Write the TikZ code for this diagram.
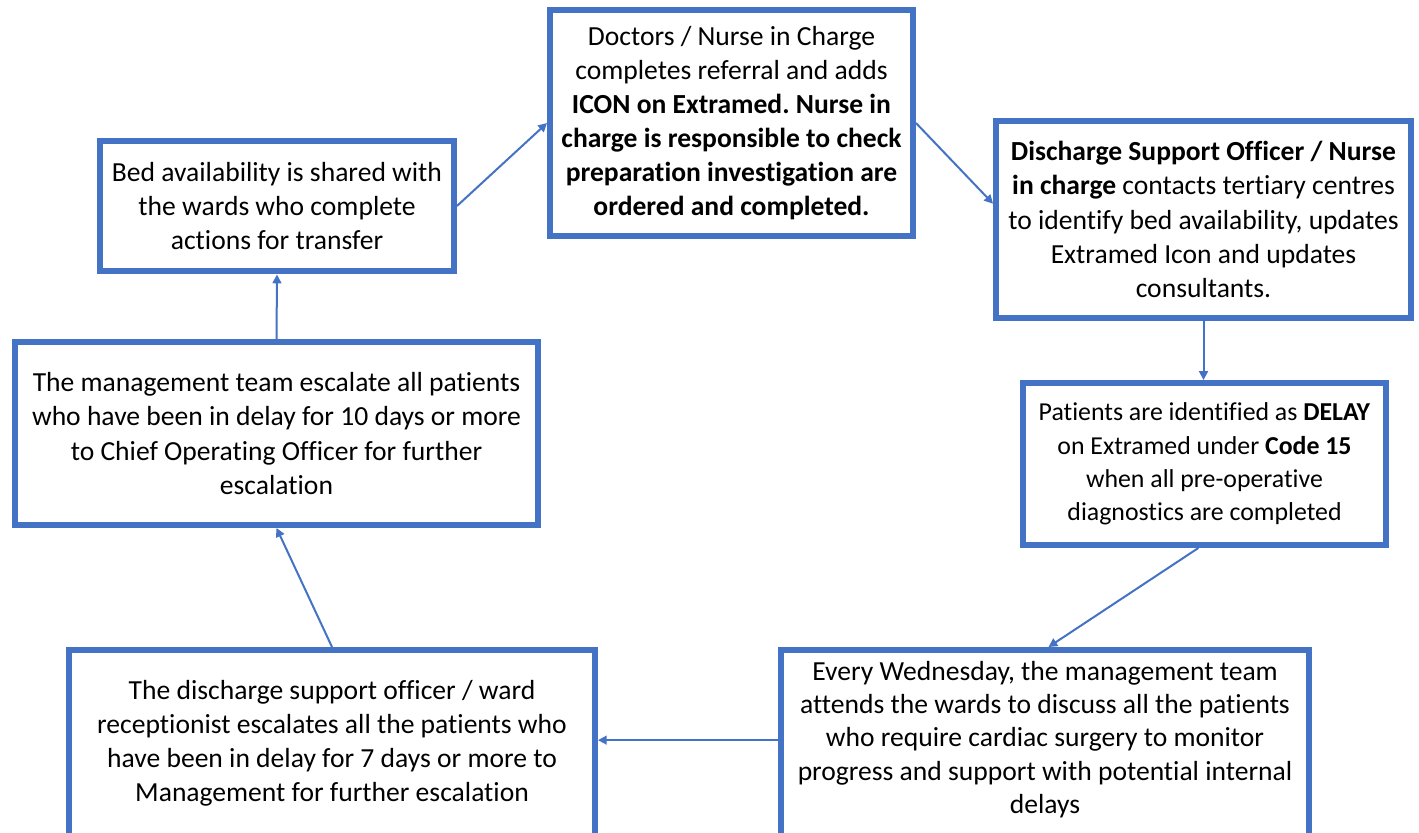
\documentclass[tikz,border=0pt]{standalone}
\usepackage{fontspec}
\setmainfont{Carlito}[Ligatures=CommonOff]
\usetikzlibrary{arrows.meta}
\definecolor{boxblue}{HTML}{4472C4}
\frenchspacing

\begin{document}
\begin{tikzpicture}[
  x=0.02cm, y=-0.02cm,
  box/.style={draw=boxblue, line width=0.12cm, fill=white, inner sep=0pt, align=center,
    font=\fontsize{15.7}{19.4}\selectfont},
  openbox/.style={box, anchor=north, text depth=2.4cm},
  flow/.style={draw=boxblue, line width=0.04cm, -{Triangle[length=5pt,width=5pt]}}
]
\useasboundingbox (0,0) rectangle (1419,832);
\clip (0,0) rectangle (1419,832);

% --- boxes ---
\node[box, minimum width=7.08cm, minimum height=2.62cm] (bed) at (277,206)
  {Bed availability is shared with\\the wards who complete\\actions for transfer};
\node[box, minimum width=7.26cm, minimum height=4.52cm] (doc) at (731.5,123)
  {Doctors / Nurse in Charge\\completes referral and adds\\\textbf{ICON on Extramed. Nurse in}\\\textbf{charge is responsible to check}\\\textbf{preparation investigation are}\\\textbf{ordered and completed.}};
\node[box, minimum width=8.30cm, minimum height=3.94cm] (dso) at (1203.5,219.5)
  {\textbf{Discharge Support Officer / Nurse}\\\textbf{in charge} contacts tertiary centres\\to identify bed availability, updates\\Extramed Icon and updates\\consultants.};
\node[box, minimum width=7.26cm, minimum height=3.24cm, font=\fontsize{14.7}{19}\selectfont] (delay) at (1204.5,464)
  {Patients are identified as \textbf{DELAY}\\on Extramed under \textbf{Code 15}\\when all pre-operative\\diagnostics are completed};
% the two lower boxes run off the bottom edge
\node[openbox, minimum width=10.56cm, inner ysep=0.22cm, font=\fontsize{15.7}{19}\selectfont] (wed) at (1045,647)
  {Every Wednesday, the management team\\attends the wards to discuss all the patients\\who require cardiac surgery to monitor\\progress and support with potential internal\\delays};
\node[openbox, minimum width=10.52cm, inner ysep=0.6cm] (ward) at (332,647)
  {The discharge support officer / ward\\receptionist escalates all the patients who\\have been in delay for 7 days or more to\\Management for further escalation};
\node[box, minimum width=10.46cm, minimum height=3.66cm] (coo) at (276.5,433.5)
  {The management team escalate all patients\\who have been in delay for 10 days or more\\to Chief Operating Officer for further\\escalation};

% --- arrows, clockwise from the top left ---
\draw[flow] (bed.east) -- (doc.west);
\draw[flow] (doc.east) -- ([yshift=9pt]dso.west);
\draw[flow] (dso.south) -- (dso.south |- delay.north);
\draw[flow] ([xshift=-3.5pt]delay.south) -- ([xshift=2pt]wed.north);
\draw[flow] ([yshift=-53pt]wed.north west) -- ([yshift=-53pt]wed.north west -| ward.east);
\draw[flow] (ward.north) -- (coo.south);
\draw[flow] (coo.north) -- (bed.south);

\end{tikzpicture}
\end{document}
